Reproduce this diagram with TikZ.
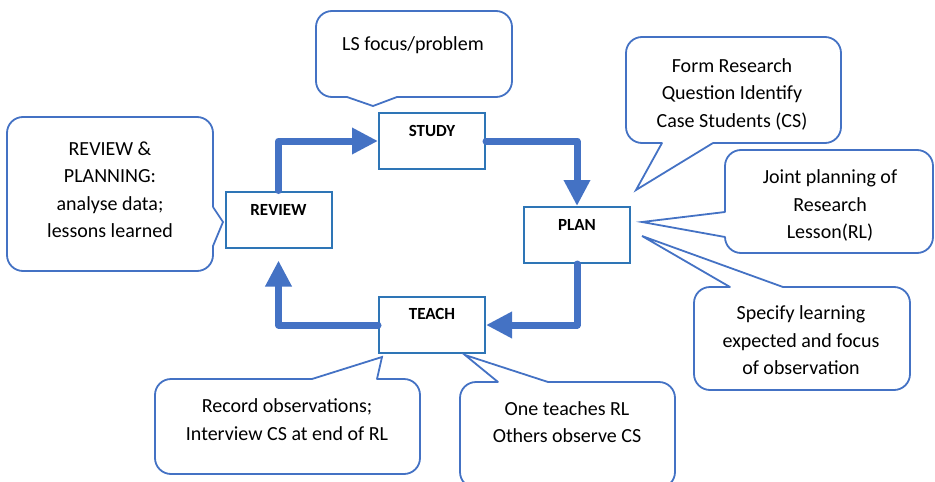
\documentclass[tikz,border=0pt]{standalone}
\usepackage{fontspec}
\setmainfont{Carlito}
\usetikzlibrary{arrows.meta}
\definecolor{cblue}{RGB}{68,114,196}
\definecolor{bblue}{RGB}{46,117,182}
\begin{document}
\begin{tikzpicture}[x=1pt,y=-1pt,
  box/.style={draw=bblue, line width=2pt, minimum width=106pt, minimum height=56pt, inner sep=0pt, fill=white},
  boxlbl/.style={font=\fontsize{17}{20}\selectfont\bfseries, text=black, inner sep=0pt},
  callout/.style={draw=cblue, line width=1.8pt, rounded corners=16pt, fill=white, inner sep=0pt},
  ctext/.style={font=\fontsize{20}{27.5}\selectfont, align=center, text=black, inner sep=0pt},
  flow/.style={draw=cblue, line width=7pt, line cap=round, line join=round, -{Triangle[width=25pt,length=26pt]}},
  cover/.style={draw=white, line width=3.2pt},
  tail/.style={draw=cblue, line width=1.8pt, line join=miter, line cap=round},
]
\useasboundingbox (0,0) rectangle (935,482);

% ---- process boxes
\node[box] (study)  at (432,141)   {};
\node[box] (review) at (278.5,219.5) {};
\node[box] (plan)   at (577,235)   {};
\node[box] (teach)  at (432,325)   {};
\node[boxlbl] (studyL)  at ([yshift=10pt]study.center)  {STUDY};
\node[boxlbl] (reviewL) at ([yshift=10pt]review.center) {REVIEW};
\node[boxlbl] (planL)   at ([yshift=10pt]plan.center)   {PLAN};
\node[boxlbl] (teachL)  at ([yshift=11pt]teach.center)  {TEACH};

% ---- cycle arrows
\coordinate (revIn) at ([yshift=-12pt]review.south);
\draw[flow] (review.north) |- (study.west);
\draw[flow] (study.east) -| (plan.north);
\draw[flow] (plan.south) |- (teach.east);
\draw[flow] (teach.west) -| (revIn);

% ---- callouts
% LS focus/problem
\node[callout, minimum width=196pt, minimum height=86pt] (cLS) at (414,54) {};
\coordinate (lsA) at (347,97); \coordinate (lsT) at (373,106); \coordinate (lsB) at (397,97);
\draw[cover] (lsA) -- (lsB);
\draw[tail] (lsA) -- (lsT) -- (lsB);
\node[ctext] (tLS) at (413,45) {LS focus/problem};

% REVIEW & PLANNING
\node[callout, minimum width=206pt, minimum height=154pt] (cRP) at (110,194) {};
\coordinate (rpA) at (213,207); \coordinate (rpT) at (223,222); \coordinate (rpB) at (213,246);
\draw[cover] (rpA) -- (rpB);
\draw[tail] (rpA) -- (rpT) -- (rpB);
\node[ctext] (tRP) at (110,189.5) {REVIEW \&\\PLANNING:\\analyse data;\\lessons learned};

% Form Research Question
\node[callout, minimum width=215pt, minimum height=106pt] (cFR) at (733.5,90) {};
\coordinate (frA) at (662,143); \coordinate (frT) at (636,190); \coordinate (frB) at (713,143);
\draw[cover] (frA) -- (frB);
\draw[tail] (frA) -- (frT) -- (frB);
\node[ctext] (tFR) at (732,94) {Form Research\\Question Identify\\Case Students (CS)};

% Joint planning
\node[callout, minimum width=208pt, minimum height=103pt] (cJP) at (829,201.5) {};
\coordinate (jpA) at (725,212); \coordinate (jpT) at (642,222); \coordinate (jpB) at (725,237);
\draw[cover] (jpA) -- (jpB);
\draw[tail] (jpA) -- (jpT) -- (jpB);
\node[ctext] (tJP) at (830,205.5) {Joint planning of\\Research\\Lesson(RL)};

% Specify learning
\node[callout, minimum width=216pt, minimum height=103pt] (cSL) at (802,338.5) {};
\coordinate (slA) at (730,287); \coordinate (slT) at (642,236); \coordinate (slB) at (783,287);
\draw[cover] (slA) -- (slB);
\draw[tail] (slA) -- (slT) -- (slB);
\node[ctext] (tSL) at (801,340.5) {Specify learning\\expected and focus\\of observation};

% Record observations
\node[callout, minimum width=265pt, minimum height=95pt] (cRO) at (287.5,426.5) {};
\coordinate (roA) at (312,379); \coordinate (roT) at (382,357); \coordinate (roB) at (377,379);
\draw[cover] (roA) -- (roB);
\draw[tail] (roA) -- (roT) -- (roB);
\node[ctext] (tRO) at (287,419.5) {Record observations;\\Interview CS at end of RL};

% One teaches
\node[callout, minimum width=215pt, minimum height=106pt] (cOT) at (567.5,435) {};
\coordinate (otA) at (498,382); \coordinate (otT) at (465,355); \coordinate (otB) at (548,382);
\draw[cover] (otA) -- (otB);
\draw[tail] (otA) -- (otT) -- (otB);
\node[ctext] (tOT) at (567,422) {One teaches RL\\Others observe CS};
\end{tikzpicture}
\end{document}
